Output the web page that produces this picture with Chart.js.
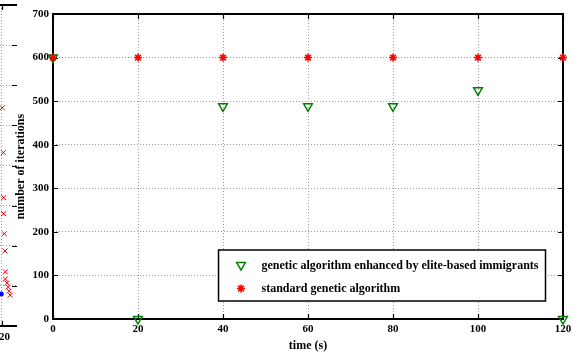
<!DOCTYPE html>
<html>
<head>
<meta charset="utf-8">
<script src="https://cdn.jsdelivr.net/npm/chart.js@4/dist/chart.umd.min.js"></script>
<style>
  html, body { margin: 0; padding: 0; background: #fff; overflow: hidden; }
  #wrap { position: relative; width: 573px; height: 356px; overflow: hidden; background: #fff; }
  #side { position: absolute; left: -205px; top: 0; }
  #main { position: absolute; left: 0; top: 0; }
</style>
</head>
<body>
<div id="wrap">
  <canvas id="side" width="222" height="356"></canvas>
  <canvas id="main" width="573" height="356"></canvas>
</div>
<script>
// Sample times (s) and iteration counts for the two algorithms
const timeTicks = [0, 20, 40, 60, 80, 100, 120];
const iterTicks = [0, 100, 200, 300, 400, 500, 600, 700];
const eliteGA = [600, 0, 488, 488, 488, 525, 0];
const standardGA = [600, 600, 600, 600, 600, 600, 600];

// Neighbouring panel (only its right edge falls inside the figure)
const sideTicksX = [0, 20, 40, 60, 80, 100, 120];
const sideTicksY = [0, 100, 200, 300, 400, 500, 600, 700, 800];
const sideRedX = [120.3, 121.0, 121.2, 121.2, 121.6, 122.1, 122.3, 122.3, 123.5, 124.2, 124.8, 125.5];
const sideRedY = [544, 432, 320, 280, 230, 187, 135, 117, 107, 97, 87, 77];
const sideBlueX = [119.6];
const sideBlueY = [80];

const FONT = { family: '"Liberation Serif", "Times New Roman", serif', weight: 'bold', size: 11 };
const TITLE_FONT = { family: '"Liberation Serif", "Times New Roman", serif', weight: 'bold', size: 12 };
const GRID_COLOR = '#9a9a9a';
const GREEN = '#008000';
const RED = '#ff0000';

function pairs(xs, ys) { return xs.map((x, i) => ({ x: x, y: ys[i] })); }

// Keep tick-label overhang from pushing the plot area inwards
function noEdgePadding(s) { s.paddingLeft = 0; s.paddingRight = 0; }

// Box frame with inward tick marks on the chosen sides
function framePlugin(sides) {
  return {
    id: 'frame',
    beforeDatasetsDraw(chart) {
      const { ctx, chartArea: a, scales } = chart;
      const tl = 5;
      ctx.save();
      ctx.strokeStyle = '#000';
      ctx.lineWidth = 1.2;
      ctx.beginPath();
      scales.y.ticks.forEach(t => {
        const py = Math.round(scales.y.getPixelForValue(t.value)) + 0.5;
        if (sides.left) { ctx.moveTo(a.left, py); ctx.lineTo(a.left + tl, py); }
        if (sides.right || sides.rightTicks) { ctx.moveTo(a.right, py); ctx.lineTo(a.right - tl, py); }
      });
      scales.x.ticks.forEach(t => {
        const px = Math.round(scales.x.getPixelForValue(t.value)) + 0.5;
        if (sides.bottom) { ctx.moveTo(px, a.bottom); ctx.lineTo(px, a.bottom - tl); }
        if (sides.top) { ctx.moveTo(px, a.top); ctx.lineTo(px, a.top + tl); }
      });
      ctx.stroke();
      ctx.lineWidth = 2;
      ctx.beginPath();
      if (sides.top) { ctx.moveTo(a.left, a.top); ctx.lineTo(a.right, a.top); }
      if (sides.bottom) { ctx.moveTo(a.left, a.bottom); ctx.lineTo(a.right, a.bottom); }
      if (sides.left) { ctx.moveTo(a.left, a.top - 1); ctx.lineTo(a.left, a.bottom + 1); }
      if (sides.right) { ctx.moveTo(a.right, a.top - 1); ctx.lineTo(a.right, a.bottom + 1); }
      ctx.stroke();
      ctx.restore();
    }
  };
}

function markerAt(ctx, ds, x, y) {
  ctx.save();
  ctx.strokeStyle = ds.borderColor;
  ctx.fillStyle = ds.backgroundColor;
  ctx.lineWidth = ds.borderWidth;
  Chart.helpers.drawPoint(ctx, {
    pointStyle: ds.pointStyle,
    rotation: ds.pointRotation || 0,
    radius: ds.pointRadius,
    borderWidth: ds.borderWidth
  }, x, y);
  ctx.restore();
}

// Boxed legend in the lower right of the plot area
const boxLegend = {
  id: 'boxLegend',
  afterDatasetsDraw(chart) {
    const { ctx, chartArea: a } = chart;
    const entries = [chart.data.datasets[1], chart.data.datasets[0]];
    ctx.save();
    ctx.font = 'bold 12px "Liberation Serif", "Times New Roman", serif';
    const tw = Math.max(...entries.map(d => ctx.measureText(d.label).width));
    const right = a.right - 17.5;
    const bottom = a.bottom - 18;
    const left = right - 7 - tw - 43;
    const top = bottom - 51;
    ctx.fillStyle = '#fff';
    ctx.fillRect(left, top, right - left, bottom - top);
    ctx.strokeStyle = '#000';
    ctx.lineWidth = 1.5;
    ctx.strokeRect(left, top, right - left, bottom - top);
    entries.forEach((d, i) => {
      const cy = top + 15 + i * 23.5;
      markerAt(ctx, d, left + 22.5, cy);
      ctx.fillStyle = '#000';
      ctx.textBaseline = 'middle';
      ctx.textAlign = 'left';
      ctx.fillText(d.label, left + 43, cy + 0.5);
    });
    ctx.restore();
  }
};

const sideCanvas = document.getElementById('side');
const sideChart = new Chart(sideCanvas, {
  type: 'scatter',
  data: {
    datasets: [
      { data: pairs(sideRedX, sideRedY), pointStyle: 'crossRot', pointRadius: 3.5,
        borderColor: RED, backgroundColor: RED, borderWidth: 1, clip: false },
      { data: pairs(sideBlueX, sideBlueY), pointStyle: 'circle', pointRadius: 2.5,
        borderColor: '#0000ff', backgroundColor: '#0000ff', borderWidth: 0, clip: false }
    ]
  },
  options: {
    responsive: false, animation: false,
    layout: { padding: { left: 0, right: 0, top: 5, bottom: 0 } },
    plugins: { legend: { display: false }, tooltip: { enabled: false } },
    scales: {
      x: {
        type: 'linear', min: 0, max: 130,
        afterBuildTicks: s => { s.ticks = sideTicksX.map(v => ({ value: v })); },
        ticks: { color: '#000', font: FONT, padding: 5, maxRotation: 0 },
        grid: { color: GRID_COLOR, lineWidth: 1, drawTicks: false },
        border: { display: false, dash: [1, 2] },
        afterFit: s => { s.height = 30; noEdgePadding(s); }
      },
      y: {
        type: 'linear', min: 0, max: 800,
        afterBuildTicks: s => { s.ticks = sideTicksY.map(v => ({ value: v })); },
        ticks: { display: false },
        grid: { color: GRID_COLOR, lineWidth: 1, drawTicks: false },
        border: { display: false, dash: [1, 2] },
        afterFit: s => { s.width = 20; }
      }
    }
  },
  plugins: [framePlugin({ top: true, bottom: true, left: true, right: false, rightTicks: true })]
});
// Slide the neighbouring panel so its last tick sits at the figure's left edge
sideCanvas.style.left = (1.5 - sideChart.scales.x.getPixelForValue(120)) + 'px';

new Chart(document.getElementById('main'), {
  type: 'scatter',
  data: {
    datasets: [
      { label: 'standard genetic algorithm', data: pairs(timeTicks, standardGA),
        pointStyle: 'star', pointRadius: 4, borderColor: RED, backgroundColor: RED,
        borderWidth: 1.6, order: 0, clip: false },
      { label: 'genetic algorithm enhanced by elite-based immigrants', data: pairs(timeTicks, eliteGA),
        pointStyle: 'triangle', pointRotation: 180, pointRadius: 5, borderColor: GREEN,
        backgroundColor: 'rgba(0,0,0,0)', borderWidth: 1.5, order: 1, clip: false }
    ]
  },
  options: {
    responsive: false, animation: false,
    layout: { padding: { left: 0, right: 10, top: 14, bottom: 0 } },
    plugins: { legend: { display: false }, tooltip: { enabled: false } },
    scales: {
      x: {
        type: 'linear', min: 0, max: 120,
        afterBuildTicks: s => { s.ticks = timeTicks.map(v => ({ value: v })); },
        ticks: { color: '#000', font: FONT, padding: 4, maxRotation: 0 },
        grid: { color: GRID_COLOR, lineWidth: 1, drawTicks: false },
        border: { display: false, dash: [1, 2] },
        title: { display: true, text: 'time (s)', color: '#000', font: TITLE_FONT, padding: { top: 0, bottom: 3 } },
        afterFit: s => { s.height = 37; noEdgePadding(s); }
      },
      y: {
        type: 'linear', min: 0, max: 700,
        afterBuildTicks: s => { s.ticks = iterTicks.map(v => ({ value: v })); },
        ticks: { color: '#000', font: FONT, padding: 4 },
        grid: { color: GRID_COLOR, lineWidth: 1, drawTicks: false },
        border: { display: false, dash: [1, 2] },
        title: { display: true, text: 'number of iterations', color: '#000', font: TITLE_FONT, padding: { top: 14, bottom: 0 } },
        afterFit: s => { s.width = 53; }
      }
    }
  },
  plugins: [framePlugin({ top: true, bottom: true, left: true, right: true }), boxLegend]
});
</script>
</body>
</html>
